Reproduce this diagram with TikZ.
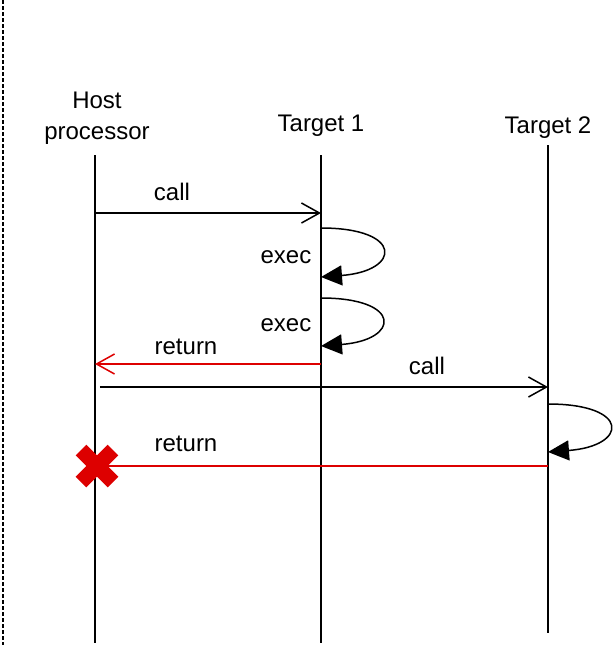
\documentclass[tikz,border=0pt]{standalone}
\usepackage{fontspec}
\setmainfont{Liberation Sans}
\usetikzlibrary{arrows.meta,shapes.misc}

\definecolor{retred}{RGB}{221,0,0}

\tikzset{
  lifeline/.style={line width=1pt},
  msg/.style={line width=0.75pt, -{Straight Barb[length=9pt,width=10pt,line width=0.75pt]}},
  ret/.style={msg, draw=retred},
  selfloop/.style={line width=0.75pt, -{Triangle[length=10.5pt,width=10pt]}},
  lbl/.style={font=\fontsize{12}{15.5}\selectfont, inner sep=0pt, align=center},
}

\begin{document}
\begin{tikzpicture}[x=0.5pt,y=-0.5pt]
        \useasboundingbox (0,0) rectangle (615,650);

        % === FRAME EDGE ===
        \draw[line width=0.75pt, dash pattern=on 2pt off 1pt] (3,0) -- (3,645);

        % === LIFELINES ===
        \node[lbl] (host) at (97,118) {Host\\processor};
        \node[lbl] (tgt1) at (321,126) {Target 1};
        \node[lbl] (tgt2) at (548,128) {Target 2};

        \coordinate (hostTop) at (95,155);
        \coordinate (hostBot) at (95,643);
        \coordinate (tgt1Top) at (321,155);
        \coordinate (tgt1Bot) at (321,643);
        \coordinate (tgt2Top) at (548,145);
        \coordinate (tgt2Bot) at (548,633);

        \draw[lifeline] (hostTop) -- (hostBot);
        \draw[lifeline] (tgt1Top) -- (tgt1Bot);
        \draw[lifeline] (tgt2Top) -- (tgt2Bot);

        % === FIRST CALL ===
        \coordinate (callA) at (95,213);
        \coordinate (callB) at (321,213);
        \draw[msg] (callA) -- (callB);
        \node[lbl] (callLbl) at (172,192) {call};

        % === EXEC LOOPS ===
        \coordinate (execAs) at (321,228);
        \coordinate (execAe) at (321,277);
        \draw[selfloop] (execAs) .. controls +(83,0) and +(80,-6) .. (execAe);
        \node[lbl] (execAlbl) at (286,257) {exec};

        \coordinate (execBs) at (321,298);
        \coordinate (execBe) at (321,346);
        \draw[selfloop] (execBs) .. controls +(82,0) and +(79,-6) .. (execBe);
        \node[lbl] (execBlbl) at (286,325) {exec};

        % === FIRST RETURN ===
        \coordinate (retA) at (321,364);
        \coordinate (retB) at (95,364);
        \draw[ret] (retA) -- (retB);
        \node[lbl] (retAlbl) at (186,347) {return};

        % === SECOND CALL ===
        \coordinate (callC) at (100,387);
        \coordinate (callD) at (548,387);
        \draw[msg] (callC) -- (callD);
        \node[lbl] (callLblB) at (427,366) {call};

        % === TARGET 2 LOOP ===
        \coordinate (execCs) at (548,404);
        \coordinate (execCe) at (548,452);
        \draw[selfloop] (execCs) .. controls +(83,0) and +(80,-6) .. (execCe);

        % === FAILED RETURN ===
        \node[cross out, draw=retred, line width=7.5pt, minimum size=16pt,
              inner sep=0pt, outer sep=0pt] (fail) at (97,466) {};
        \coordinate (retC) at (548,466);
        \draw[line width=0.75pt, retred] (retC) -- (fail.center);
        \node[lbl] (retBlbl) at (186,444) {return};

    \end{tikzpicture}
\end{document}
